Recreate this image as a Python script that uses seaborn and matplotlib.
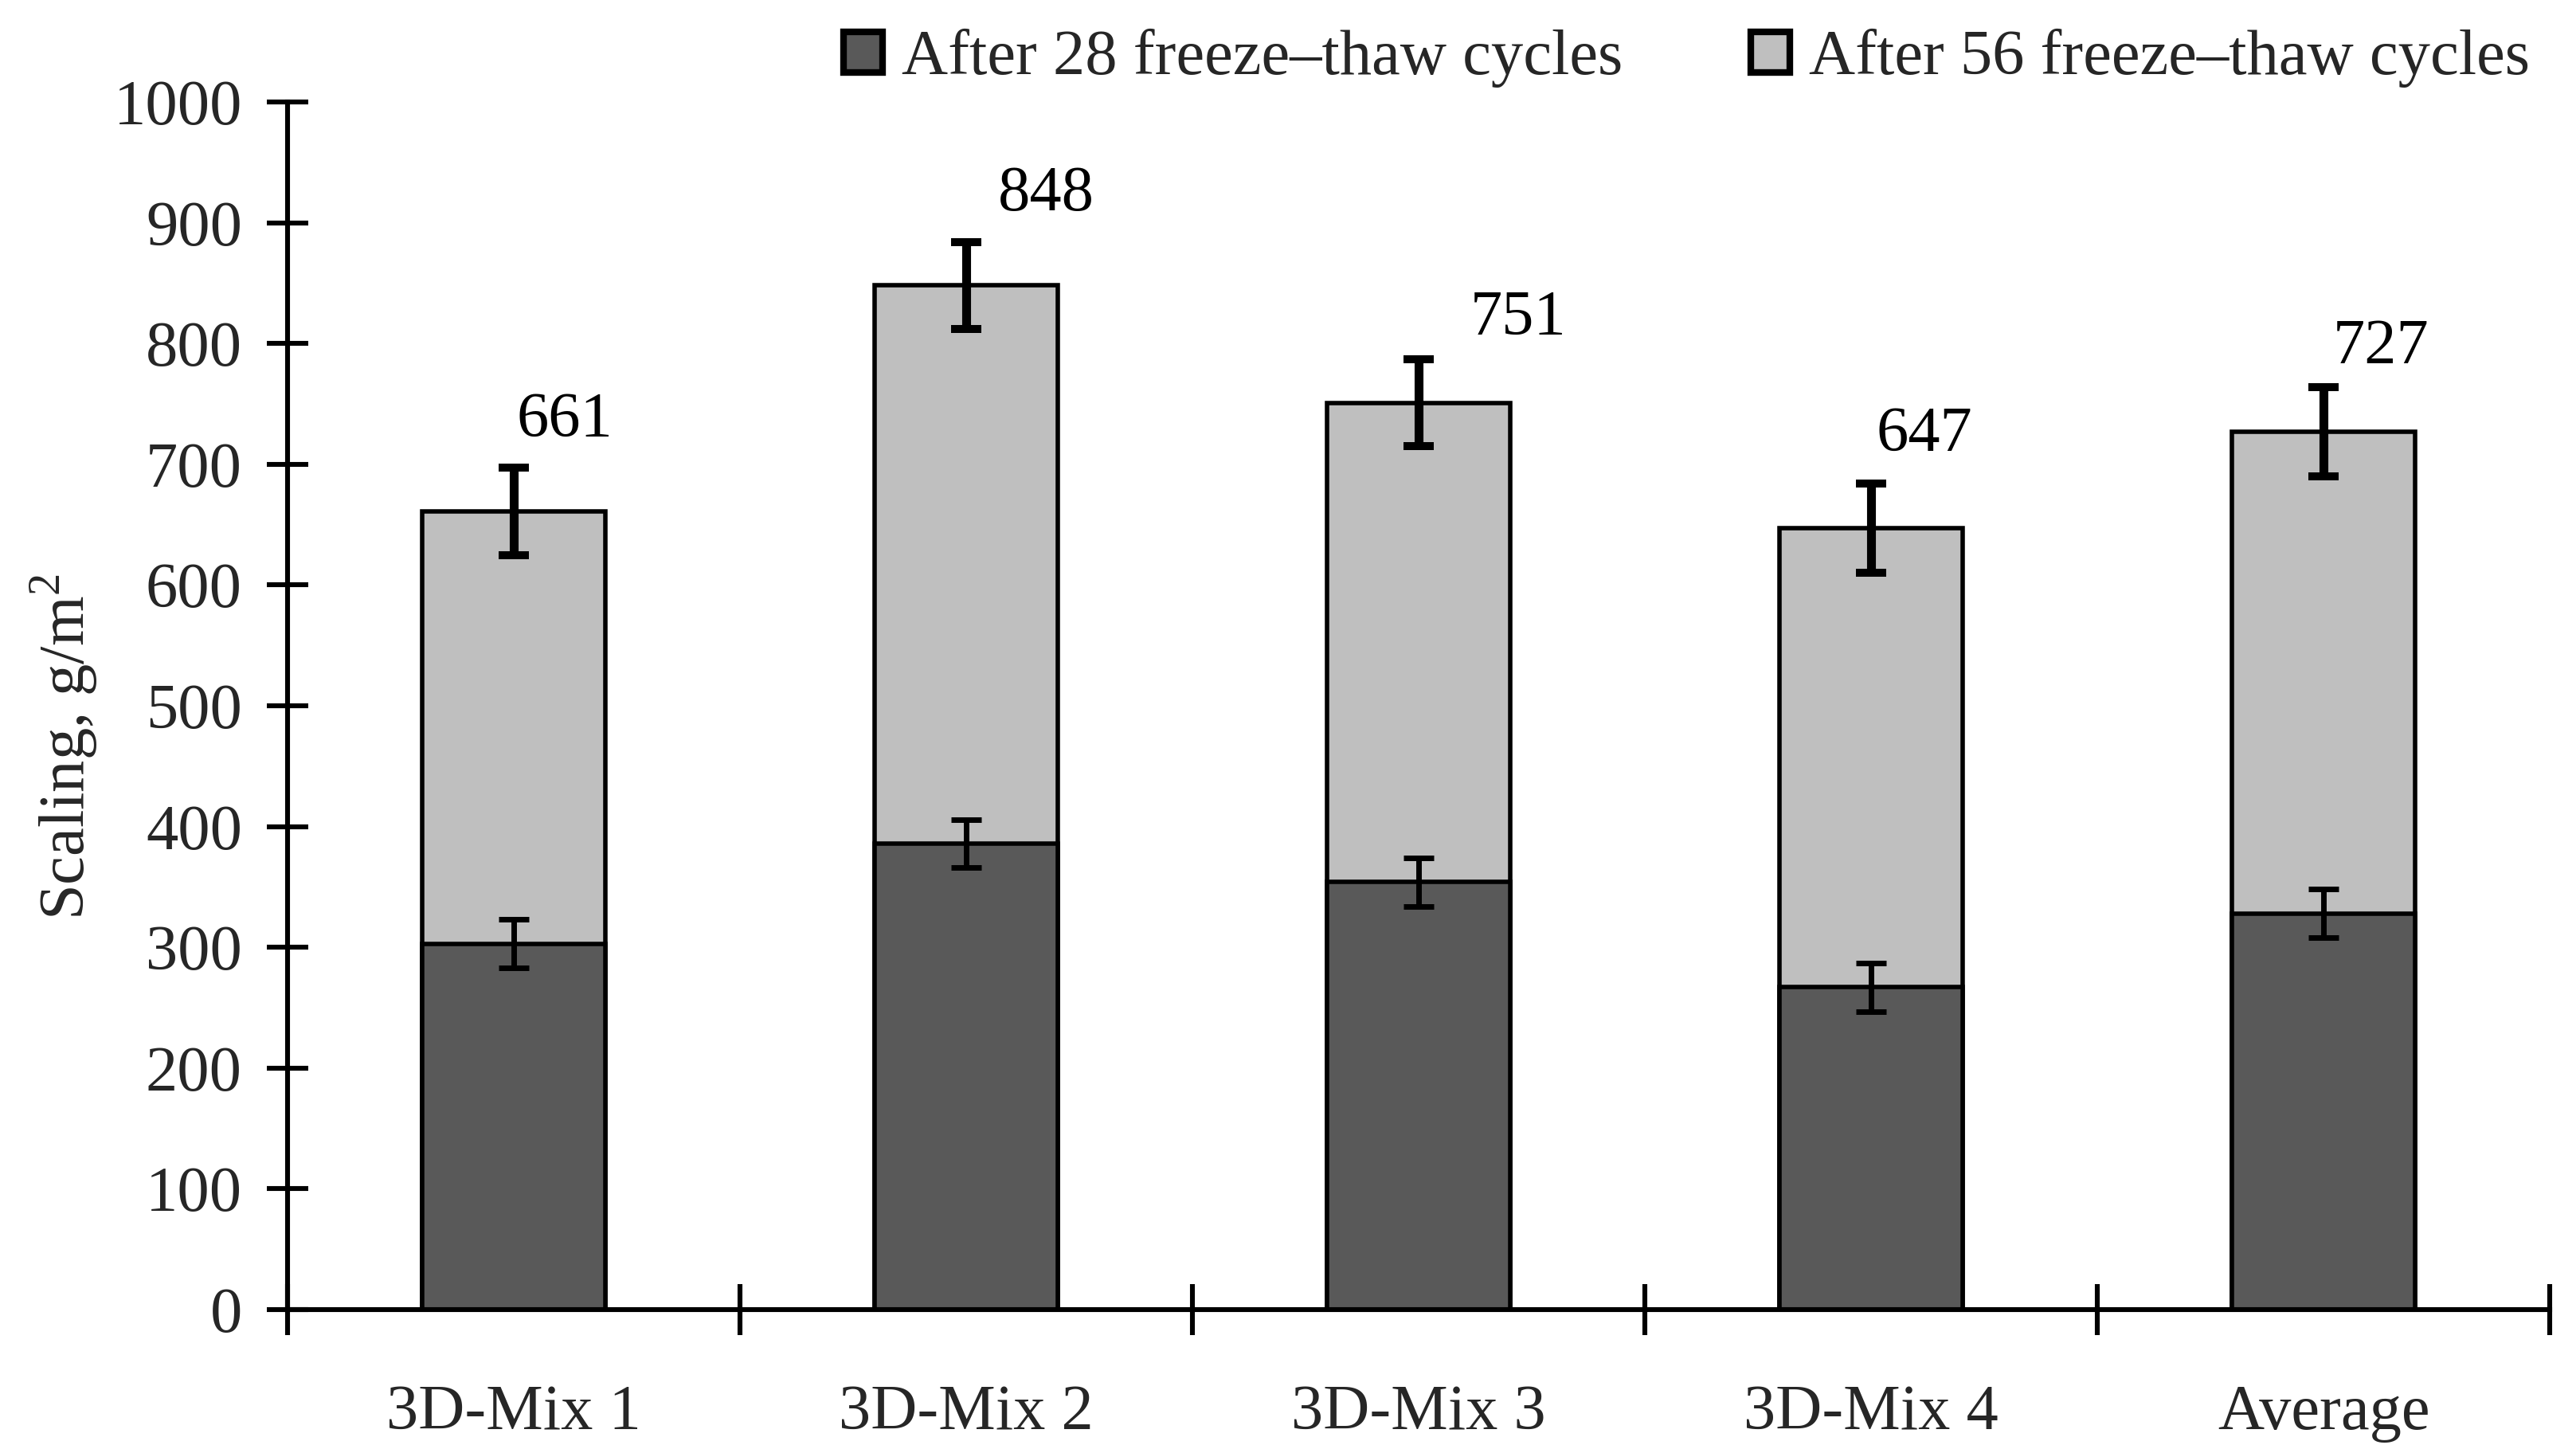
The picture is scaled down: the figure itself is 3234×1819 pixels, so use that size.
"""
Stacked bar chart of surface scaling after freeze-thaw cycles.
"""

import matplotlib
matplotlib.use("Agg")
import matplotlib.pyplot as plt
from matplotlib.patches import Patch
import numpy as np
import seaborn as sns

# data
mixes = ["3D-Mix 1", "3D-Mix 2", "3D-Mix 3", "3D-Mix 4", "Average"]
scaling_28 = [303, 386, 354, 267, 328]
scaling_56 = [661, 848, 751, 647, 727]
err_28 = [20, 20, 20, 20, 20]
err_56 = [36, 36, 36, 37, 37]
series_names = ["After 28 freeze\u2013thaw cycles", "After 56 freeze\u2013thaw cycles"]
y_ticks = list(range(0, 1001, 100))

# label nudges (points), as placed in the original
label_dx = [23, 36, 45, 24, 26]
label_dy = [41, 41, 38, 42, 38]

DARK = "#595959"
LIGHT = "#bfbfbf"
FS = 29

sns.set_theme(style="white")
plt.rcParams["font.family"] = ["Liberation Serif", "DejaVu Serif"]
plt.rcParams["mathtext.fontset"] = "custom"
plt.rcParams["mathtext.rm"] = "Liberation Serif"

fig = plt.figure(figsize=(16.17, 9.095), dpi=200)
ax = fig.add_axes([0.1116, 0.0962, 0.9898 - 0.1116, 0.9296 - 0.0962])

# total (56 cycles) behind, 28 cycles in front
sns.barplot(x=mixes, y=scaling_56, color=LIGHT, saturation=1, width=0.405,
            edgecolor="black", linewidth=2.0, ax=ax)
sns.barplot(x=mixes, y=scaling_28, color=DARK, saturation=1, width=0.405,
            edgecolor="black", linewidth=2.0, ax=ax)

xpos = np.arange(len(mixes))
ax.errorbar(xpos, scaling_56, yerr=err_56, fmt="none", ecolor="black",
            elinewidth=4, capsize=7, capthick=3.6, zorder=5)
ax.errorbar(xpos, scaling_28, yerr=err_28, fmt="none", ecolor="black",
            elinewidth=2.5, capsize=7, capthick=2.5, zorder=5)

for i, v in enumerate(scaling_56):
    ax.annotate(f"{v}", xy=(i, v), xytext=(label_dx[i], label_dy[i]),
                textcoords="offset points", ha="center", va="center",
                fontsize=FS, color="black")

ax.set_xlim(-0.5, len(mixes) - 0.5)
ax.set_ylim(0, 1000)
ax.set_yticks(y_ticks)
ax.set_yticklabels([str(t) for t in y_ticks], fontsize=FS)

# boundary ticks on x, labels at centres
ax.set_xticks(np.arange(-0.5, len(mixes)), labels=[""] * (len(mixes) + 1))
ax.set_xticks(xpos, labels=mixes, minor=True)
ax.tick_params(axis="x", which="major", bottom=True, direction="inout",
               length=23, width=2.2, color="black")
ax.tick_params(axis="x", which="minor", bottom=True, length=0, pad=34,
               labelsize=FS)
ax.tick_params(axis="y", left=True, direction="inout", length=19, width=2.2,
               color="black", pad=11, labelsize=FS)

for side in ["top", "right"]:
    ax.spines[side].set_visible(False)
for side in ["left", "bottom"]:
    ax.spines[side].set_color("black")
    ax.spines[side].set_linewidth(2.2)

ax.set_xlabel("")
ax.set_ylabel("Scaling, g/m$^{2}$", fontsize=FS)
ax.yaxis.set_label_coords(-0.083, 0.466)

handles = [Patch(facecolor=DARK, edgecolor="black", linewidth=3),
           Patch(facecolor=LIGHT, edgecolor="black", linewidth=3)]
fig.legend(handles, series_names, loc="upper right", bbox_to_anchor=(0.982, 0.98),
           ncol=2, frameon=False, fontsize=FS, handlelength=0.6,
           handleheight=0.6, handletextpad=0.3, columnspacing=2.0,
           borderpad=0, borderaxespad=0)

fig.savefig("out.png", dpi=200, facecolor="white")
